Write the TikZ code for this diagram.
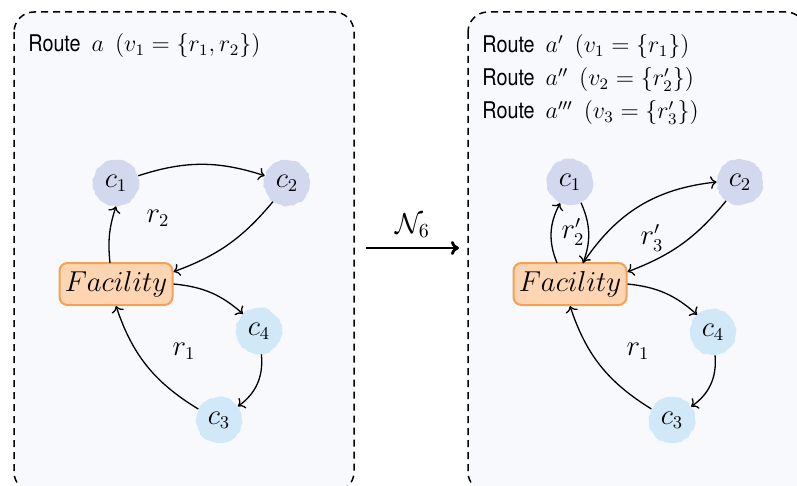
\documentclass[tikz,border=0pt]{standalone}
\usepackage{fontspec}
\newfontfamily\routefont[FakeStretch=0.86]{TeX Gyre Heros}
\usetikzlibrary{decorations.pathmorphing,arrows.meta}
\definecolor{panelfill}{HTML}{F8F9FC}
\definecolor{cA}{HTML}{D2D9EE}
\definecolor{cB}{HTML}{D0E8F8}
\definecolor{facfill}{HTML}{FDD5B2}
\definecolor{facdraw}{HTML}{F2A155}
\newcommand{\rgap}{\hspace{5.5pt}}
\begin{document}
\begin{tikzpicture}[x=0.5pt,y=-0.5pt,
  panel/.style={draw=black,line width=0.75pt,dash pattern=on 3.5pt off 2.5pt,fill=panelfill,rounded corners=10pt},
  cust/.style={circle,inner sep=0pt,minimum size=23pt,font=\fontsize{13.5}{15}\selectfont,
    decorate,decoration={random steps,segment length=1.5pt,amplitude=0.4pt}},
  custA/.style={cust,fill=cA},
  custB/.style={cust,fill=cB},
  fac/.style={draw=facdraw,fill=facfill,line width=1pt,rounded corners=4pt,minimum width=56.5pt,minimum height=21pt,inner sep=0pt,font=\fontsize{14.4}{16}\selectfont},
  edge/.style={->,line width=0.65pt},
  lbl/.style={font=\fontsize{13.5}{15}\selectfont},
  route/.style={anchor=west,inner sep=0pt,font=\routefont\fontsize{11.5}{14}\selectfont}]
\useasboundingbox (0,0) rectangle (797,486);
\begin{scope}
\clip (0,0) rectangle (797,486);
\draw[panel] (14,12) rectangle (354,492);
\draw[panel] (468,12) rectangle (806,492);
\end{scope}
% left panel
\node[route] (ta) at (28,46) {Route\rgap$a$\rgap$(v_1=\{r_1,r_2\})$};
\node[custA] (c1) at (116,183) {$c_1$};
\node[custA] (c2) at (287,183) {$c_2$};
\node[custB] (c4) at (259,331) {$c_4$};
\node[custB] (c3) at (219,420) {$c_3$};
\node[fac] (f) at (116,284) {$Facility$};
\node[lbl] (r2) at (158,218) {$r_2$};
\node[lbl] (r1) at (184,351) {$r_1$};
\coordinate (fa) at (110,263);
\draw[edge] (fa) to[bend left=12] (c1.south);
\draw[edge] (c1) to[bend left=18] (c2);
\draw[edge] (c2) to[bend left=15] (f.12);
\draw[edge] (f.east) to[bend left=18] (c4);
\draw[edge] (c4) to[bend left=30] (c3);
\draw[edge] (c3) to[bend left=20] (f.south);
% arrow
\coordinate (as) at (366,248);
\coordinate (ae) at (459,248);
\draw[-{To[length=4pt,width=7pt]},line width=1.4pt] (as) -- node[above=1pt,font=\fontsize{14.4}{16}\selectfont] (n6) {$\mathcal{N}_6$} (ae);
% right panel
\node[route] (tb1) at (482,47) {Route\rgap$a'$\rgap$(v_1=\{r_1\})$};
\node[route] (tb2) at (482,80) {Route\rgap$a''$\rgap$(v_2=\{r'_2\})$};
\node[route] (tb3) at (482,113) {Route\rgap$a'''$\rgap$(v_3=\{r'_3\})$};
\node[custA] (d1) at (570,182) {$c_1$};
\node[custA] (d2) at (740,182) {$c_2$};
\node[custB] (d4) at (713,332) {$c_4$};
\node[custB] (d3) at (672,420) {$c_3$};
\node[fac] (g) at (570,284) {$Facility$};
\node[lbl] (q2) at (573,232) {$r'_2$};
\node[lbl] (q3) at (652,238) {$r'_3$};
\node[lbl] (q1) at (638,351) {$r_1$};
\coordinate (gl) at (557,263);
\coordinate (gr) at (583,263);
\draw[edge] (gl) to[bend left=25] (d1.-115);
\draw[edge] (d1.-62) to[bend left=22] (gr);
\draw[edge] (gr) to[bend left=25] (d2.west);
\draw[edge] (d2) to[bend left=15] (g.12);
\draw[edge] (g.east) to[bend left=18] (d4);
\draw[edge] (d4) to[bend left=30] (d3);
\draw[edge] (d3) to[bend left=20] (g.south);
\end{tikzpicture}
\end{document}
